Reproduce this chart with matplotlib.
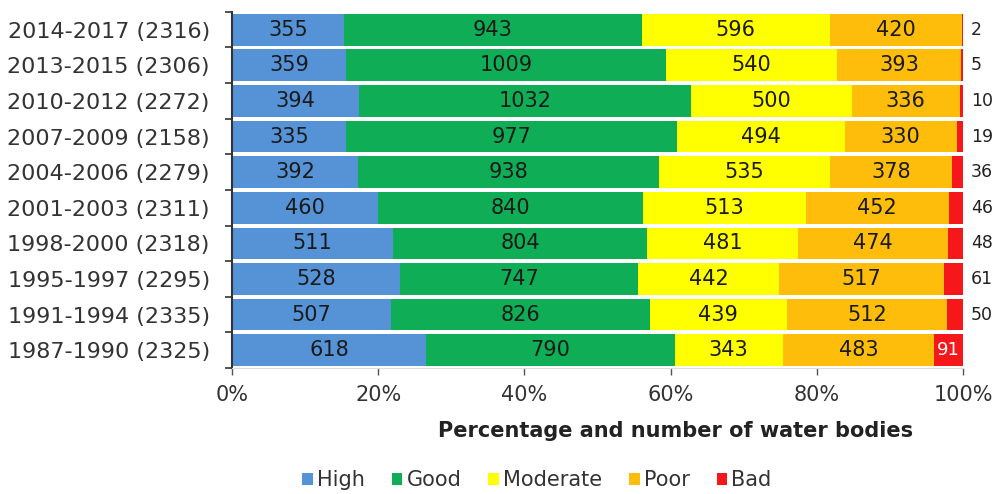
import matplotlib.pyplot as plt
import numpy as np

periods = ['2014-2017', '2013-2015', '2010-2012', '2007-2009', '2004-2006',
           '2001-2003', '1998-2000', '1995-1997', '1991-1994', '1987-1990']
totals = [2316, 2306, 2272, 2158, 2279, 2311, 2318, 2295, 2335, 2325]
high = [355, 359, 394, 335, 392, 460, 511, 528, 507, 618]
good = [943, 1009, 1032, 977, 938, 840, 804, 747, 826, 790]
moderate = [596, 540, 500, 494, 535, 513, 481, 442, 439, 343]
poor = [420, 393, 336, 330, 378, 452, 474, 517, 512, 483]
bad = [2, 5, 10, 19, 36, 46, 48, 61, 50, 91]

classes = ['High', 'Good', 'Moderate', 'Poor', 'Bad']
colors = ['#5592d6', '#0fad55', '#ffff00', '#fdbd0a', '#f5171a']

plt.rcParams['font.family'] = ['DejaVu Sans']

fig = plt.figure(figsize=(9.98, 4.94), dpi=100)
ax = fig.add_axes([0.2325, 0.255, 0.7325, 0.721])

data = np.array([high, good, moderate, poor, bad], dtype=float)
row_sum = data.sum(axis=0)
frac = data / row_sum
n = len(periods)
y = np.arange(n)[::-1]

left = np.zeros(n)
for k, (name, col) in enumerate(zip(classes, colors)):
    ax.barh(y, frac[k], left=left, height=0.89, color=col, label=name, linewidth=0)
    for i in range(n):
        v = int(data[k, i])
        cx = left[i] + frac[k, i] / 2
        if name == 'Bad':
            if v >= 80:
                ax.text(cx, y[i], str(v), ha='center', va='center', fontsize=13, color='white')
            else:
                # thin slivers: label just right of the bar
                ax.text(1.011, y[i], str(v), ha='left', va='center', fontsize=12.5, color='#222222', clip_on=False)
        else:
            ax.text(cx, y[i], str(v), ha='center', va='center', fontsize=15, color='#1a1a1a')
    left += frac[k]

ax.set_xlim(0, 1)
ax.set_ylim(-0.5, n - 0.5)
ax.set_xticks(np.linspace(0, 1, 6))
ax.set_xticklabels([f'{int(p)}%' for p in np.linspace(0, 100, 6)], fontsize=15, color='#333333')
ax.set_yticks(y)
ax.set_yticklabels([f'{p} ({t})' for p, t in zip(periods, totals)], fontsize=16, color='#333333')
ax.tick_params(axis='y', length=0, pad=16)
ax.set_yticks(np.arange(-0.5, n, 1), minor=True)
ax.tick_params(axis='y', which='minor', length=5, width=1.2, color='#333333', direction='out')
ax.tick_params(axis='x', length=5, width=1, color='#555555', pad=7)

for s in ['top', 'right']:
    ax.spines[s].set_visible(False)
ax.spines['left'].set_color('#333333')
ax.spines['left'].set_linewidth(1.5)
ax.spines['bottom'].set_color('#dddddd')

fig.text(0.677, 0.128, 'Percentage and number of water bodies', ha='center', va='center',
         fontsize=15, fontweight='bold', color='#222222')

fig.legend(loc='center', bbox_to_anchor=(0.538, 0.028), ncol=5, frameon=False, fontsize=15,
           handlelength=0.5, handleheight=0.5, handletextpad=0.2, columnspacing=1.3,
           labelcolor='#333333')

fig.savefig('out.png', dpi=100, facecolor='white')
